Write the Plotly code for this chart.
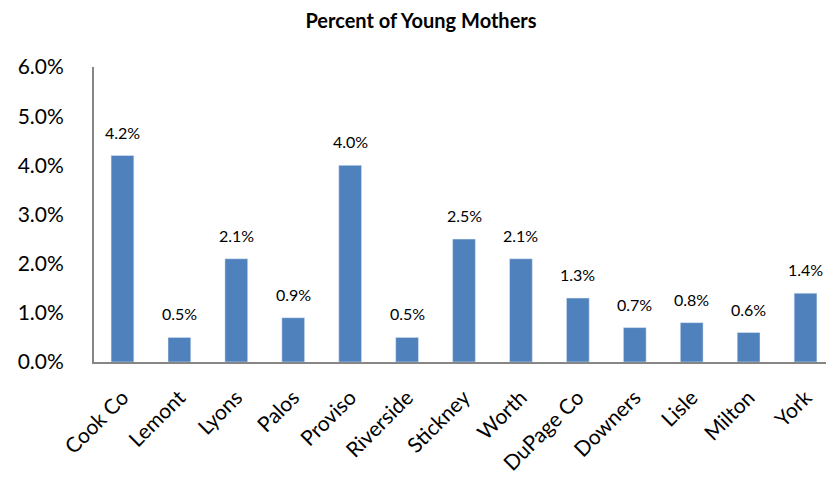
import plotly.graph_objects as go

regions = ["Cook Co", "Lemont", "Lyons", "Palos", "Proviso", "Riverside", "Stickney",
           "Worth", "DuPage Co", "Downers", "Lisle", "Milton", "York"]
young_mothers = [0.042, 0.005, 0.021, 0.009, 0.040, 0.005, 0.025,
                 0.021, 0.013, 0.007, 0.008, 0.006, 0.014]
labels = ["4.2%", "0.5%", "2.1%", "0.9%", "4.0%", "0.5%", "2.5%",
          "2.1%", "1.3%", "0.7%", "0.8%", "0.6%", "1.4%"]

font_name = "Lato, Open Sans, sans-serif"

fig = go.Figure()
fig.add_trace(go.Bar(
    x=regions,
    y=young_mothers,
    marker=dict(color="#4F81BD"),
))

# value labels sit a little above each bar, like the spreadsheet original
for name, val, lab in zip(regions, young_mothers, labels):
    fig.add_annotation(x=name, y=val, text=lab, showarrow=False,
                       yanchor="bottom", yshift=12,
                       font=dict(size=16, color="black"))

# page body has an 8px margin, so the figure is a bit smaller than the window
fig.update_layout(
    title=dict(text="<b>Percent of Young Mothers</b>", x=0.5, xanchor="center",
               y=0.972, yanchor="middle", font=dict(size=20, color="black")),
    width=826, height=480,
    margin=dict(l=86, r=0, t=59, b=126),
    paper_bgcolor="white",
    plot_bgcolor="white",
    font=dict(family=font_name, color="black"),
    bargap=0.6,
    showlegend=False,
    yaxis=dict(
        range=[0, 0.06],
        dtick=0.01,
        tickformat=".1%",
        showgrid=False,
        showline=True,
        linecolor="#868686",
        linewidth=2,
        ticks="",
        tickfont=dict(size=21),
        ticklabelstandoff=24,
        zeroline=False,
        automargin=False,
    ),
    xaxis=dict(
        showline=True,
        linecolor="#868686",
        linewidth=2,
        tickangle=-45,
        tickfont=dict(size=21),
        ticks="",
        ticklabelstandoff=13,
        automargin=False,
    ),
)

fig.write_html("out.html")
